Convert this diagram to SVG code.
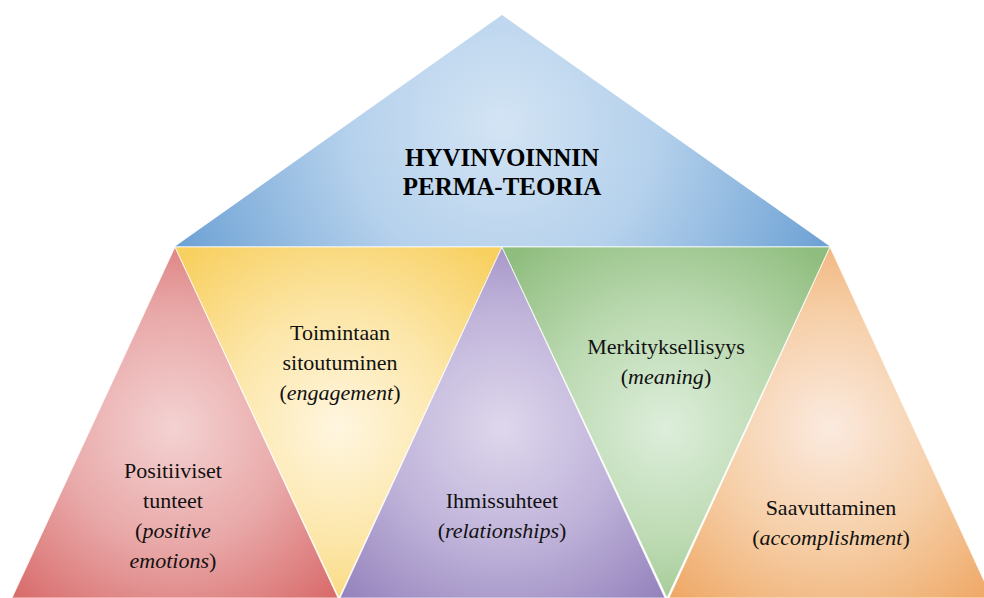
<svg xmlns="http://www.w3.org/2000/svg" width="984" height="598" viewBox="0 0 984 598">
<style>
.t{font-family:'Liberation Serif','DejaVu Serif',serif;font-size:22px;fill:#111;text-anchor:middle}
.it{font-style:italic}
.h{font-family:'Liberation Serif','DejaVu Serif',serif;font-size:25px;font-weight:bold;fill:#000;text-anchor:middle}
.tri{stroke:#ffffff;stroke-width:0.7;stroke-linejoin:miter}
</style>
<defs>
<radialGradient id="gBlue" gradientUnits="userSpaceOnUse" cx="502" cy="125" r="340">
<stop offset="0" stop-color="#d3e4f4"/><stop offset="0.45" stop-color="#b5d1ec"/><stop offset="1" stop-color="#6fa3d5"/></radialGradient>
<radialGradient id="gRed" gradientUnits="userSpaceOnUse" cx="174" cy="428" r="230">
<stop offset="0" stop-color="#f4d2d2"/><stop offset="0.5" stop-color="#e9a9a9"/><stop offset="1" stop-color="#d96c6c"/></radialGradient>
<radialGradient id="gYel" gradientUnits="userSpaceOnUse" cx="339" cy="428" r="230">
<stop offset="0" stop-color="#fff6e0"/><stop offset="0.5" stop-color="#fce6a8"/><stop offset="1" stop-color="#f8d060"/></radialGradient>
<radialGradient id="gPur" gradientUnits="userSpaceOnUse" cx="502" cy="428" r="230">
<stop offset="0" stop-color="#ded7ec"/><stop offset="0.5" stop-color="#c0b4da"/><stop offset="1" stop-color="#9583bd"/></radialGradient>
<radialGradient id="gGrn" gradientUnits="userSpaceOnUse" cx="666" cy="428" r="230">
<stop offset="0" stop-color="#ddeedb"/><stop offset="0.5" stop-color="#bcdab2"/><stop offset="1" stop-color="#8fbd7e"/></radialGradient>
<radialGradient id="gOra" gradientUnits="userSpaceOnUse" cx="830" cy="428" r="230">
<stop offset="0" stop-color="#fbeadf"/><stop offset="0.5" stop-color="#f6cfa8"/><stop offset="1" stop-color="#efa866"/></radialGradient>
</defs>
<g id="roof">
<polygon points="502,15 830,246.5 175,246.5" fill="url(#gBlue)"/>
<text class="h" x="502" y="166">HYVINVOINNIN</text>
<text class="h" x="502" y="195">PERMA-TEORIA</text>
</g>
<g id="positive">
<polygon class="tri" points="175,247 338,598 12,598" fill="url(#gRed)"/>
<text class="t" x="173" y="478">Positiiviset</text>
<text class="t" x="173" y="508">tunteet</text>
<text class="t" x="173" y="538">(<tspan class="it">positive</tspan></text>
<text class="t" x="173" y="568"><tspan class="it">emotions</tspan>)</text>
</g>
<g id="engagement">
<polygon class="tri" points="175,247 502,247 339,598" fill="url(#gYel)"/>
<text class="t" x="340" y="340">Toimintaan</text>
<text class="t" x="340" y="370">sitoutuminen</text>
<text class="t" x="340" y="400">(<tspan class="it">engagement</tspan>)</text>
</g>
<g id="relationships">
<polygon class="tri" points="502,247 665,598 340,598" fill="url(#gPur)"/>
<text class="t" x="502" y="508">Ihmissuhteet</text>
<text class="t" x="502" y="538">(<tspan class="it">relationships</tspan>)</text>
</g>
<g id="meaning">
<polygon class="tri" points="502,247 830,247 667,598" fill="url(#gGrn)"/>
<text class="t" x="666" y="354">Merkityksellisyys</text>
<text class="t" x="666" y="384">(<tspan class="it">meaning</tspan>)</text>
</g>
<g id="accomplishment">
<polygon class="tri" points="830,247 992,598 669,598" fill="url(#gOra)"/>
<text class="t" x="831" y="515">Saavuttaminen</text>
<text class="t" x="831" y="545">(<tspan class="it">accomplishment</tspan>)</text>
</g>
<g id="connectors"/>
</svg>
